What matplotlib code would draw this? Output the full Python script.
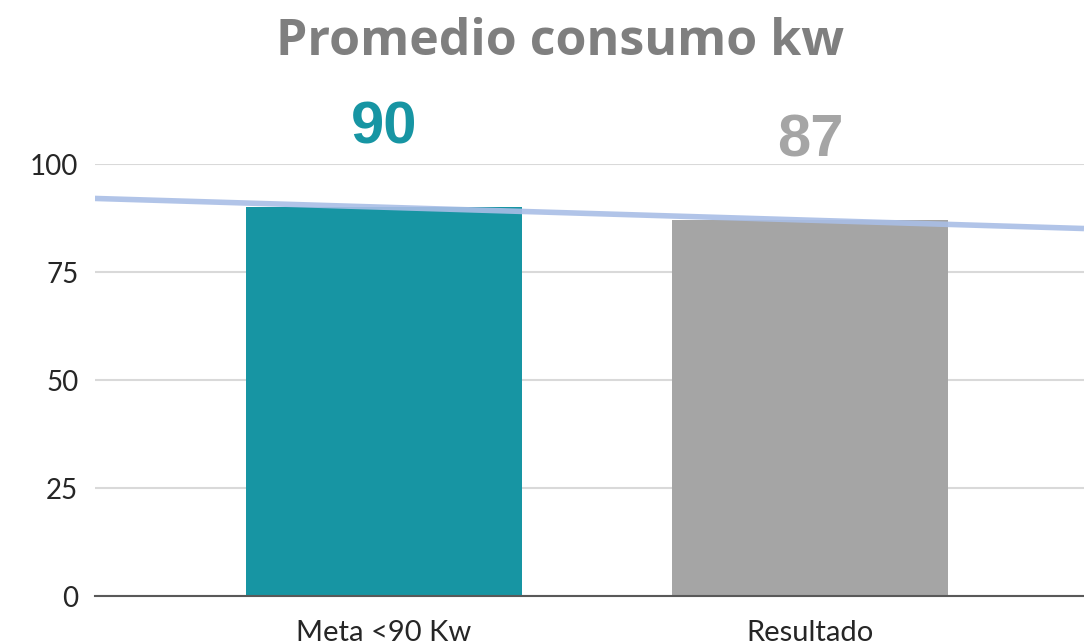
import numpy as np
import matplotlib.pyplot as plt

categorias = ["Meta <90 Kw", "Resultado"]
valores = [90, 87]
colores = ["#1795A3", "#A5A5A5"]
yticks = [0, 25, 50, 75, 100]

fig = plt.figure(figsize=(10.84, 6.44), dpi=100)
ax = fig.add_axes([0.0876, 0.0745, 0.9124, 0.6708])

x = np.arange(len(categorias))
ax.bar(x, valores, width=0.648, color=colores, zorder=2)

# linea de tendencia lineal
m, b = np.polyfit(x, valores, 1)
xl = np.array([-0.678, 1.643])
ax.plot(xl, m * xl + b, color="#A9BEE6", lw=4, alpha=0.9, zorder=3,
        solid_capstyle="butt")

for xi, v, c in zip(x, valores, colores):
    ax.text(xi, v + 18.3, str(v), ha="center", va="center", color=c,
            fontsize=43, fontweight="heavy", family="Liberation Sans",
            clip_on=False)

ax.set_xlim(-0.678, 1.643)
ax.set_ylim(0, 100)
ax.set_yticks(yticks)
ax.set_xticks(x)
ax.set_xticklabels(categorias)
ax.tick_params(axis="y", length=0, labelsize=20, labelcolor="#262626", pad=12)
ax.tick_params(axis="x", length=0, labelsize=21, labelcolor="#262626", pad=17)
for lab in ax.get_xticklabels() + ax.get_yticklabels():
    lab.set_family("Lato")
ax.grid(axis="y", color="#D9D9D9", lw=1.5, zorder=0)
for s in ["top", "right", "left"]:
    ax.spines[s].set_visible(False)
ax.spines["bottom"].set_color("#595959")
ax.spines["bottom"].set_linewidth(1.5)
ax.spines["bottom"].set_zorder(4)

fig.text(0.517, 0.935, "Promedio consumo kw", ha="center", va="center",
         fontsize=36, fontweight="bold", color="#7F7F7F", family="Open Sans")

fig.savefig("out.png", dpi=100)
